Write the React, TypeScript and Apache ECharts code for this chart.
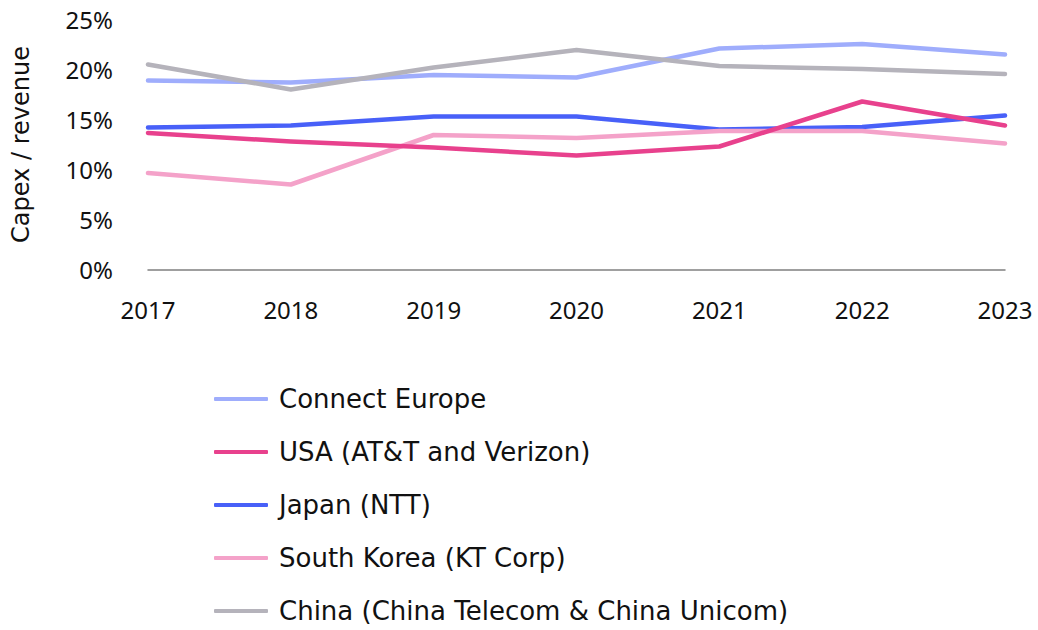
import React, { useEffect, useRef } from "react";
import * as echarts from "echarts";

const years = ["2017", "2018", "2019", "2020", "2021", "2022", "2023"];
const connectEurope = [18.9, 18.7, 19.45, 19.2, 22.1, 22.55, 21.5];
const usa = [13.65, 12.8, 12.2, 11.4, 12.3, 16.8, 14.4];
const japan = [14.2, 14.4, 15.3, 15.3, 14.0, 14.25, 15.4];
const southKorea = [9.65, 8.5, 13.45, 13.15, 13.85, 13.85, 12.6];
const china = [20.5, 18.0, 20.2, 21.95, 20.35, 20.05, 19.55];

const seriesNames = [
  "Connect Europe",
  "USA (AT&T and Verizon)",
  "Japan (NTT)",
  "South Korea (KT Corp)",
  "China (China Telecom & China Unicom)",
];
const seriesData = [connectEurope, usa, japan, southKorea, china];
const colors = ["#9fadfc", "#e8418d", "#4860f8", "#f4a2c9", "#b5b3bb"];

const FONT = "Noto Sans";
const WIDE = "DejaVu Sans";

export default function App() {
  const ref = useRef<HTMLDivElement>(null);
  useEffect(() => {
    if (!ref.current) return;
    const chart = echarts.init(ref.current, null, { renderer: "svg" });
    chart.setOption({
      animation: false,
      textStyle: { fontFamily: FONT },
      grid: { left: 148, right: 33, top: 19.5, bottom: 360.5, containLabel: false },
      xAxis: {
        type: "category",
        data: years,
        boundaryGap: false,
        axisLine: { show: true, lineStyle: { color: "#808080", width: 1.5 } },
        axisTick: { show: false },
        axisLabel: { color: "#111", fontSize: 24, margin: 28, fontFamily: FONT },
      },
      yAxis: {
        type: "value",
        min: 0,
        max: 25,
        interval: 5,
        name: "Capex / revenue",
        nameLocation: "middle",
        nameGap: 115,
        nameRotate: 90,
        nameTextStyle: { color: "#111", fontSize: 24, fontFamily: WIDE },
        axisLine: { show: false },
        axisTick: { show: false },
        splitLine: { show: false },
        axisLabel: {
          color: "#111",
          fontSize: 24,
          margin: 35,
          fontFamily: FONT,
          formatter: (v: number) => v + "%",
        },
      },
      legend: {
        orient: "vertical",
        left: 214,
        top: 384,
        height: 400,
        padding: 0,
        icon: "roundRect",
        itemWidth: 54,
        itemHeight: 4,
        itemGap: 23,
        textStyle: { color: "#111", fontSize: 26, lineHeight: 30, fontFamily: WIDE, padding: [0, 0, 0, 6] },
        data: seriesNames,
      },
      series: seriesNames.map((name, i) => ({
        name,
        type: "line",
        data: seriesData[i],
        symbol: "none",
        lineStyle: { color: colors[i], width: 4.5, cap: "round", join: "round" },
        itemStyle: { color: colors[i] },
        z: i === 1 ? 3 : 2,
      })),
    });
    return () => chart.dispose();
  }, []);
  return <div ref={ref} style={{ width: 1038, height: 630, position: "absolute", left: 0, top: 0 }} />;
}
